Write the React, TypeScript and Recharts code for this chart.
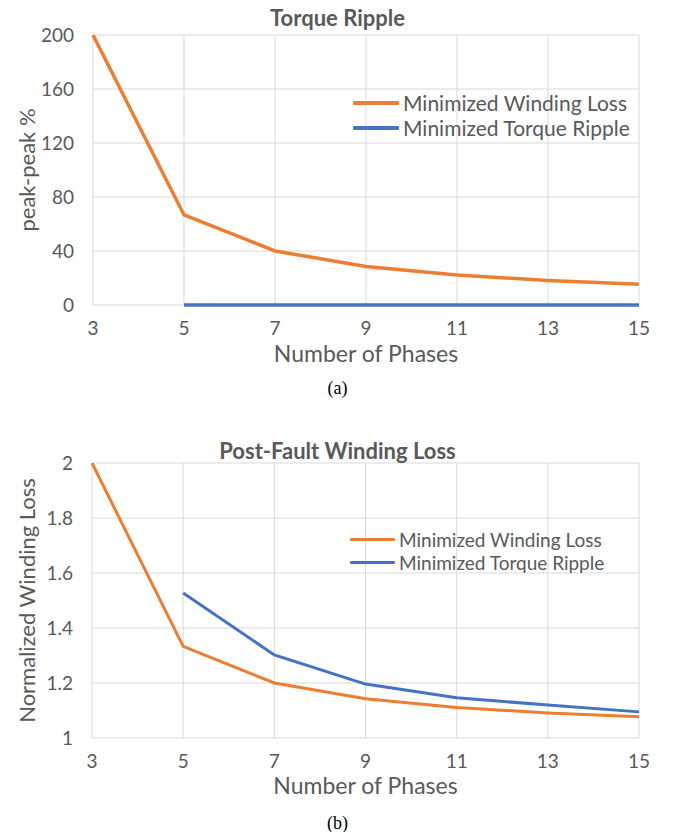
import React from "react";
import { LineChart, Line, XAxis, YAxis, CartesianGrid, Legend, Label } from "recharts";

const phases = [3, 5, 7, 9, 11, 13, 15];

// (a) Torque Ripple, peak-peak %
const rippleWindingLoss = [200, 66.7, 40, 28.6, 22.2, 18.2, 15.4];
const rippleTorqueRipple: (number | null)[] = [null, 0, 0, 0, 0, 0, 0];
const rippleTicks = [0, 40, 80, 120, 160, 200];

// (b) Post-Fault Winding Loss, normalized
const lossWindingLoss = [2.0, 1.333, 1.2, 1.143, 1.111, 1.091, 1.077];
const lossTorqueRipple: (number | null)[] = [null, 1.527, 1.302, 1.196, 1.146, 1.12, 1.095];
const lossTicks = [1, 1.2, 1.4, 1.6, 1.8, 2];

const seriesNames = ["Minimized Winding Loss", "Minimized Torque Ripple"];

const ORANGE = "#ED7D31";
const BLUE = "#4472C4";
const GRID = "#D9D9D9";
const TEXT = "#595959";
const FONT = "Lato, 'Open Sans', sans-serif";

const dataA = phases.map((p, i) => ({ p, wl: rippleWindingLoss[i], tr: rippleTorqueRipple[i] }));
const dataB = phases.map((p, i) => ({ p, wl: lossWindingLoss[i], tr: lossTorqueRipple[i] }));

function makeLegend(fontSize: number, lineW: number, rowH: number, stroke: number) {
  return () => (
    <div style={{ fontFamily: FONT, fontSize, color: TEXT, lineHeight: `${rowH}px` }}>
      {seriesNames.map((n, i) => (
        <div key={n} style={{ display: "flex", alignItems: "center", height: rowH, whiteSpace: "nowrap" }}>
          <div style={{ width: lineW, height: stroke, background: i === 0 ? ORANGE : BLUE, marginRight: 4, borderRadius: 1 }} />
          <span>{n}</span>
        </div>
      ))}
    </div>
  );
}

const tickStyle = { fill: TEXT, fontSize: 19, fontFamily: FONT };

export default function App() {
  return (
    <div style={{ position: "absolute", left: 0, top: 0, width: 675, height: 832, background: "#fff" }}>
      {/* Chart (a) */}
      <div style={{ position: "absolute", left: 0, top: 0 }}>
        <LineChart width={675} height={375} data={dataA} margin={{ top: 35, right: 36, left: 0, bottom: 0 }}>
          <CartesianGrid stroke={GRID} strokeWidth={1} />
          <XAxis dataKey="p" type="number" domain={[3, 15]} ticks={phases} tickLine={false} tickSize={0} tickMargin={17}
            axisLine={false} tick={tickStyle} height={70} interval={0}>
            <Label value="Number of Phases" position="insideBottom" offset={13} style={{ fill: TEXT, fontSize: 23, fontFamily: FONT }} />
          </XAxis>
          <YAxis type="number" domain={[0, 200]} ticks={rippleTicks} tickLine={false} tickSize={0} tickMargin={19}
            axisLine={false} tick={tickStyle} width={93} interval={0}>
            <Label value="peak-peak %" angle={-90} position="insideLeft" offset={27} style={{ fill: TEXT, fontSize: 22, fontFamily: FONT, textAnchor: "middle" }} />
          </YAxis>
          <Legend layout="vertical" align="center" verticalAlign="middle" content={makeLegend(21, 46, 25, 4)}
            wrapperStyle={{ left: 353, top: 90, width: 310 }} />
          <Line type="linear" dataKey="wl" stroke={ORANGE} strokeWidth={3.5} dot={false} isAnimationActive={false} />
          <Line type="linear" dataKey="tr" stroke={BLUE} strokeWidth={3.5} dot={false} isAnimationActive={false} />
        </LineChart>
      </div>
      <div style={{ position: "absolute", left: 0, top: -1, width: 675, textAlign: "center", fontFamily: FONT, fontWeight: 700, fontSize: 22, color: TEXT, lineHeight: "38px" }}>
        Torque Ripple
      </div>
      <div style={{ position: "absolute", left: 0, top: 376, width: 675, textAlign: "center", fontFamily: "'Liberation Serif', 'Times New Roman', serif", fontSize: 18, color: "#000", lineHeight: "24px" }}>
        (a)
      </div>

      {/* Chart (b) */}
      <div style={{ position: "absolute", left: 0, top: 430 }}>
        <LineChart width={675} height={375} data={dataB} margin={{ top: 33, right: 36, left: 0, bottom: 0 }}>
          <CartesianGrid stroke={GRID} strokeWidth={1} />
          <XAxis dataKey="p" type="number" domain={[3, 15]} ticks={phases} tickLine={false} tickSize={0} tickMargin={17}
            axisLine={false} tick={tickStyle} height={67} interval={0}>
            <Label value="Number of Phases" position="insideBottom" offset={11} style={{ fill: TEXT, fontSize: 23, fontFamily: FONT }} />
          </XAxis>
          <YAxis type="number" domain={[1, 2]} ticks={lossTicks} tickLine={false} tickSize={0} tickMargin={19}
            axisLine={false} tick={tickStyle} width={92} interval={0}>
            <Label value="Normalized Winding Loss" angle={-90} position="insideLeft" offset={27} style={{ fill: TEXT, fontSize: 22, fontFamily: FONT, textAnchor: "middle" }} />
          </YAxis>
          <Legend layout="vertical" align="center" verticalAlign="middle" content={makeLegend(19, 45, 23, 3.5)}
            wrapperStyle={{ left: 350, top: 98, width: 310 }} />
          <Line type="linear" dataKey="wl" stroke={ORANGE} strokeWidth={3} dot={false} isAnimationActive={false} />
          <Line type="linear" dataKey="tr" stroke={BLUE} strokeWidth={3} dot={false} isAnimationActive={false} />
        </LineChart>
      </div>
      <div style={{ position: "absolute", left: 0, top: 432, width: 675, textAlign: "center", fontFamily: FONT, fontWeight: 700, fontSize: 22, color: TEXT, lineHeight: "38px" }}>
        Post-Fault Winding Loss
      </div>
      <div style={{ position: "absolute", left: 0, top: 811, width: 675, textAlign: "center", fontFamily: "'Liberation Serif', 'Times New Roman', serif", fontSize: 18, color: "#000", lineHeight: "24px" }}>
        (b)
      </div>
    </div>
  );
}
